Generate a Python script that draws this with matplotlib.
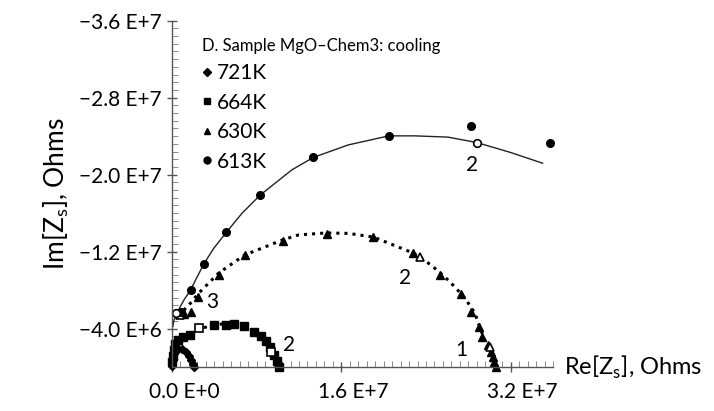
import matplotlib
matplotlib.use("Agg")
import matplotlib.pyplot as plt
from matplotlib.lines import Line2D
from matplotlib.ticker import MultipleLocator, FixedLocator, FixedFormatter
from matplotlib.transforms import ScaledTranslation

plt.rcParams['font.family'] = ['Lato', 'DejaVu Sans']

# Re[Zs] and Im[Zs] in units of 1E6 Ohms (Im is negative)
re_721 = [0.00, 0.05, 0.09, 0.28, 0.56, 0.94, 1.32, 1.60, 1.79, 1.98, 2.07]
im_721 = [-0.10, -0.73, -1.35, -1.77, -1.92, -1.87, -1.56, -1.14, -0.73, -0.31, 0.0]

re_664 = [0.00, 0.09, 0.19, 0.28, 0.56, 1.04, 1.69, 3.95, 5.08, 5.84, 6.78, 7.72,
          8.38, 8.85, 9.22, 9.60, 9.88, 10.07]
im_664 = [-0.52, -1.14, -1.77, -2.39, -2.81, -3.12, -3.33, -4.37, -4.42, -4.47, -4.27, -3.64,
          -3.22, -2.70, -2.08, -1.25, -0.62, -0.05]
re_664_open = [2.54, 9.32]
im_664_open = [-4.06, -1.56]
re_664_fit = [0.00, 0.28, 0.75, 1.60, 2.54, 3.95, 5.18, 6.31, 7.44, 8.38, 9.13, 9.69, 10.07]
im_664_fit = [-0.73, -1.98, -2.70, -3.33, -3.95, -4.37, -4.53, -4.42, -3.85, -3.22, -2.29, -1.25, -0.05]

re_630 = [30.62, 30.47, 30.31, 30.15, 29.84, 29.30, 28.99, 28.26, 27.32, 25.29, 22.78,
          19.01, 14.62, 10.45, 6.92, 4.42, 2.49, 1.76, 1.13]
im_630 = [-0.03, -0.55, -1.07, -1.59, -2.29, -3.09, -4.19, -5.75, -7.59, -9.57, -11.83,
          -13.49, -13.84, -13.14, -11.60, -9.57, -7.33, -5.67, -5.51]
re_630_open = [23.41, 30.09, 0.75]
im_630_open = [-11.47, -2.11, -5.40]
re_630_fit = [0.56, 1.60, 2.54, 4.42, 6.87, 10.45, 11.95, 14.59, 16.66, 19.01, 20.42, 22.78,
              24.47, 25.79, 26.73, 27.67, 28.61, 29.08, 29.65, 30.12, 30.59]
im_630_fit = [-5.31, -6.45, -7.70, -9.78, -11.65, -13.21, -13.73, -13.94, -13.89, -13.52,
              -12.90, -11.86, -10.61, -9.36, -8.32, -7.18, -5.62, -4.16, -2.50, -1.46, -0.03]

re_613 = [0.85, 1.76, 3.06, 5.13, 8.35, 13.36, 20.49, 28.21, 35.70]
im_613 = [-5.72, -8.01, -10.72, -13.99, -17.89, -21.79, -24.03, -25.10, -23.27]
re_613_open = [28.83, 0.35]
im_613_open = [-23.33, -5.59]
re_613_fit = [0.09, 0.19, 0.61, 1.13, 1.76, 2.23, 3.01, 3.95, 5.11, 6.62, 8.35, 11.32,
              13.36, 16.66, 20.49, 22.94, 26.07, 28.83, 32.03, 35.01]
im_613_fit = [-4.27, -4.89, -5.93, -6.97, -8.01, -9.05, -10.72, -12.35, -13.97, -15.99,
              -17.89, -20.49, -21.79, -23.09, -24.03, -24.03, -23.90, -23.33, -22.29, -21.19]

y_ticks = [-36, -28, -20, -12, -4]
y_labels = ['\u22123.6 E+7', '\u22122.8 E+7', '\u22122.0 E+7', '\u22121.2 E+7', '\u22124.0 E+6']
x_ticks = [0, 16, 32]
x_labels = ['0.0 E+0', '1.6 E+7', '3.2 E+7']

fig = plt.figure(figsize=(7.14, 4.11), dpi=100)
ax = fig.add_axes([0.2409, 0.107, 0.5336, 0.8426])

ax.plot(re_613_fit, im_613_fit, '-', color='#222222', lw=1.0)
ax.plot(re_630_fit, im_630_fit, ':', color='black', lw=2.2)
ax.plot(re_664_fit, im_664_fit, ':', color='black', lw=2.2)

ax.plot(re_721, im_721, 'D', color='black', ms=4.5, clip_on=False)
ax.plot(re_664, im_664, 's', color='black', ms=5.5, clip_on=False)
ax.plot(re_664_open, im_664_open, 's', mfc='white', mec='black', ms=5.5, mew=1.2, clip_on=False)
ax.plot(re_630, im_630, '^', color='black', ms=5.5, clip_on=False)
ax.plot(re_630_open, im_630_open, '^', mfc='white', mec='black', ms=5.5, mew=1.2, clip_on=False)
ax.plot(re_613, im_613, 'o', color='black', ms=5.5, clip_on=False)
ax.plot(re_613_open, im_613_open, 'o', mfc='white', mec='black', ms=5.5, mew=1.2, clip_on=False)

ax.set_xlim(0, 36)
ax.set_ylim(0, -36)

for s in ['top', 'right']:
    ax.spines[s].set_visible(False)
for s in ['left', 'bottom']:
    ax.spines[s].set_color('#555555')
    ax.spines[s].set_linewidth(1.0)

ax.yaxis.set_major_locator(FixedLocator(y_ticks))
ax.yaxis.set_major_formatter(FixedFormatter(y_labels))
ax.xaxis.set_major_locator(FixedLocator(x_ticks))
ax.xaxis.set_major_formatter(FixedFormatter(x_labels))
ax.xaxis.set_minor_locator(MultipleLocator(0.8))
ax.yaxis.set_minor_locator(MultipleLocator(0.8))
ax.tick_params(which='major', direction='inout', length=7, width=1, color='#555555',
               labelsize=15, pad=4)
ax.tick_params(which='minor', direction='in', length=4, width=0.6, color='#777777')
ax.tick_params(axis='x', which='major', pad=7)

for lab in ax.get_xticklabels():
    lab.set_transform(lab.get_transform() + ScaledTranslation(0.12, 0, fig.dpi_scale_trans))

ax.set_ylabel('Im[Z$_\\mathregular{s}$], Ohms', fontsize=19, labelpad=6)
ax.text(1.03, 0.0, 'Re[Z$_\\mathregular{s}$], Ohms', transform=ax.transAxes, fontsize=17,
        ha='left', va='center')

ax.text(28.4, -21.0, '2', fontsize=15, ha='center', va='center')
ax.text(22.0, -9.3, '2', fontsize=15, ha='center', va='center')
ax.text(27.3, -1.8, '1', fontsize=15, ha='center', va='center')
ax.text(11.1, -2.3, '2', fontsize=15, ha='center', va='center')
ax.text(3.8, -6.8, '3', fontsize=15, ha='center', va='center')

handles = [Line2D([], [], marker='D', color='black', ls='none', ms=4),
           Line2D([], [], marker='s', color='black', ls='none', ms=5),
           Line2D([], [], marker='^', color='black', ls='none', ms=5),
           Line2D([], [], marker='o', color='black', ls='none', ms=5)]
leg = ax.legend(handles, ['721K', '664K', '630K', '613K'], loc='upper left',
                bbox_to_anchor=(0.08, 0.95), frameon=False, fontsize=15,
                handlelength=0.4, handletextpad=0.3, labelspacing=0.45,
                borderaxespad=0, borderpad=0,
                title='D. Sample MgO\u2013Chem3: cooling', title_fontsize=12,
                alignment='left')

fig.savefig('out.png', dpi=100)
